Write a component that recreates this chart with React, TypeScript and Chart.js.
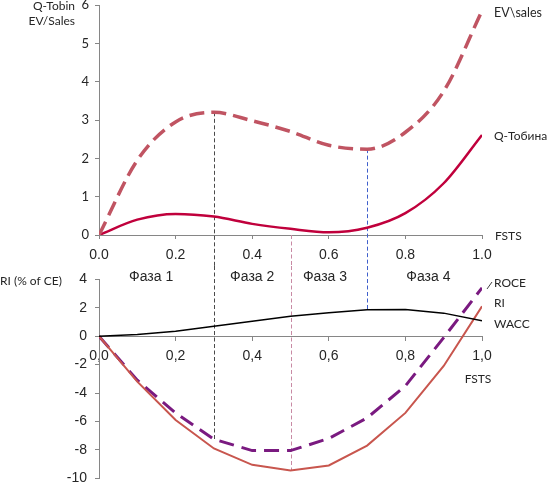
import React, { useEffect, useRef } from "react";
import { Chart, registerables } from "chart.js";

Chart.register(...registerables);

// ---------- data ----------
const FSTS = [0, 0.1, 0.2, 0.3, 0.4, 0.5, 0.6, 0.7, 0.8, 0.9, 1.0];
const EV_SALES = [0, 1.95, 2.95, 3.2, 2.98, 2.7, 2.34, 2.24, 2.68, 3.75, 5.85];
const Q_TOBIN = [0, 0.4, 0.55, 0.48, 0.29, 0.16, 0.07, 0.19, 0.57, 1.35, 2.61];
const WACC = [0, 0.12, 0.35, 0.7, 1.05, 1.4, 1.65, 1.85, 1.87, 1.62, 1.08];
const ROCE = [0, -3.1, -5.4, -7.25, -8.05, -8.05, -7.2, -5.75, -3.5, -0.1, 3.4];
const RI = [0, -3.2, -5.9, -7.9, -9.05, -9.45, -9.1, -7.7, -5.4, -2.1, 2.1];

const TOP_Y_MIN = 0;
const TOP_Y_MAX = 6;
const TOP_Y_STEP = 1;
const BOT_Y_MIN = -10;
const BOT_Y_MAX = 4;
const BOT_Y_STEP = 2;
const X_MIN = 0;
const X_MAX = 1;
const X_STEP = 0.2;

const PHASE_LABELS = ["Фаза 1", "Фаза 2", "Фаза 3", "Фаза 4"];
const PHASE_CENTERS = [0.136, 0.4, 0.59, 0.86];

// vertical markers: x position, series where it starts (top panel) and ends (bottom panel)
const MARKER_X = [0.3, 0.5, 0.7];
const MARKER_TOP = [EV_SALES, null, EV_SALES];
const MARKER_BOTTOM = [ROCE, RI, WACC];

// ---------- style ----------
const MARKER_COLORS = ["#4A4A4A", "#C88AA4", "#3F5FCC"];
const AXIS_COLOR = "#868686";
const TEXT_COLOR = "#262626";
const SANS = "Lato, 'Open Sans', sans-serif";
const ARIAL = "'Liberation Sans', Arial, sans-serif";

const W = 548;
const TOP_H = 266;
const BOT_H = 217;

function markerPath(chart: any, i: number, top: boolean) {
  const xs = chart.scales.x;
  const ys = chart.scales.y;
  const idx = FSTS.indexOf(MARKER_X[i]);
  const px = Math.round(xs.getPixelForValue(MARKER_X[i])) + 0.5;
  let y1: number, y2: number;
  if (top) {
    const s = MARKER_TOP[i];
    y1 = ys.getPixelForValue(s ? s[idx] : 0);
    y2 = chart.height;
  } else {
    y1 = 0;
    y2 = ys.getPixelForValue(MARKER_BOTTOM[i][idx]);
  }
  const ctx = chart.ctx;
  ctx.save();
  ctx.strokeStyle = MARKER_COLORS[i];
  ctx.lineWidth = 1;
  ctx.setLineDash([4, 2.5]);
  ctx.beginPath();
  ctx.moveTo(px, y1);
  ctx.lineTo(px, y2);
  ctx.stroke();
  ctx.restore();
}

function drawText(ctx: any, text: string, x: number, y: number, font: string, align: string) {
  ctx.save();
  ctx.font = font;
  ctx.fillStyle = TEXT_COLOR;
  ctx.textAlign = align;
  ctx.textBaseline = "middle";
  ctx.fillText(text, x, y);
  ctx.restore();
}

const topPlugin = {
  id: "topDecor",
  beforeDatasetsDraw(chart: any) {
    MARKER_X.forEach((_, i) => markerPath(chart, i, true));
  },
  afterDraw(chart: any) {
    const ctx = chart.ctx;
    drawText(ctx, "Q-Tobin", 75, 6, `12px ${SANS}`, "right");
    drawText(ctx, "EV/Sales", 75, 21, `12px ${SANS}`, "right");
    drawText(ctx, "EV\\sales", 494, 13, `12.5px ${SANS}`, "left");
    drawText(ctx, "Q-Тобина", 494, 136, `12px ${SANS}`, "left");
    drawText(ctx, "FSTS", 495, 236, `12px ${SANS}`, "left");
  },
};

const bottomPlugin = {
  id: "bottomDecor",
  beforeDatasetsDraw(chart: any) {
    MARKER_X.forEach((_, i) => markerPath(chart, i, false));
  },
  afterDraw(chart: any) {
    const ctx = chart.ctx;
    const xs = chart.scales.x;
    drawText(ctx, "RI (% of CE)", 0, 15, `12px ${SANS}`, "left");
    PHASE_LABELS.forEach((p, i) => {
      drawText(ctx, p, xs.getPixelForValue(PHASE_CENTERS[i]), 11, `14px ${ARIAL}`, "center");
    });
    drawText(ctx, "ROCE", 494, 17, `12px ${SANS}`, "left");
    drawText(ctx, "RI", 494, 37, `12px ${SANS}`, "left");
    drawText(ctx, "WACC", 494, 58, `12px ${SANS}`, "left");
    drawText(ctx, "FSTS", 478, 113, `12px ${SANS}`, "center");
    // small leader to ROCE
    ctx.save();
    ctx.strokeStyle = "#404040";
    ctx.lineWidth = 1;
    ctx.beginPath();
    ctx.moveTo(487, 23);
    ctx.lineTo(492, 16);
    ctx.stroke();
    ctx.restore();
  },
};

function pts(vals: number[]) {
  return FSTS.map((x, i) => ({ x, y: vals[i] }));
}

export default function App() {
  const topRef = useRef<HTMLCanvasElement>(null);
  const botRef = useRef<HTMLCanvasElement>(null);

  useEffect(() => {
    const gridCommon = { drawOnChartArea: false, tickLength: 4, color: AXIS_COLOR, lineWidth: 1 };
    const border = { color: AXIS_COLOR, width: 1 };

    const top = new Chart(topRef.current as HTMLCanvasElement, {
      type: "line",
      data: {
        datasets: [
          {
            label: "EV\\sales",
            data: pts(EV_SALES),
            borderColor: "#C05462",
            borderWidth: 3.5,
            borderDash: [15, 7],
            pointRadius: 0,
            cubicInterpolationMode: "monotone",
            fill: false,
          },
          {
            label: "Q-Тобина",
            data: pts(Q_TOBIN),
            borderColor: "#C0003C",
            borderWidth: 2.5,
            pointRadius: 0,
            cubicInterpolationMode: "monotone",
            fill: false,
          },
        ],
      },
      options: {
        responsive: false,
        animation: false,
        layout: { padding: { top: 5, left: 0, right: 66, bottom: 0 } },
        plugins: { legend: { display: false }, tooltip: { enabled: false } },
        scales: {
          x: {
            type: "linear",
            min: X_MIN,
            max: X_MAX,
            position: "bottom",
            ticks: {
              stepSize: X_STEP,
              callback: (v: any) => Number(v).toFixed(1),
              font: { family: ARIAL, size: 14 },
              color: TEXT_COLOR,
              padding: 8,
              maxRotation: 0,
              autoSkip: false,
            },
            grid: gridCommon,
            border,
            afterFit: (s: any) => {
              s.height = TOP_H - 235;
              s.paddingLeft = 0;
              s.paddingRight = 0;
            },
          },
          y: {
            type: "linear",
            min: TOP_Y_MIN,
            max: TOP_Y_MAX,
            ticks: {
              stepSize: TOP_Y_STEP,
              font: { family: SANS, size: 13 },
              color: TEXT_COLOR,
              padding: 6,
            },
            grid: gridCommon,
            border,
            afterFit: (s: any) => {
              s.width = 99;
              s.paddingTop = 0;
              s.paddingBottom = 0;
            },
          },
        },
      } as any,
      plugins: [topPlugin as any],
    });

    const bot = new Chart(botRef.current as HTMLCanvasElement, {
      type: "line",
      data: {
        datasets: [
          {
            label: "WACC",
            data: pts(WACC),
            borderColor: "#000000",
            borderWidth: 1.5,
            pointRadius: 0,
            tension: 0,
            fill: false,
          },
          {
            label: "RI",
            data: pts(RI),
            borderColor: "#C8564E",
            borderWidth: 2,
            pointRadius: 0,
            tension: 0,
            fill: false,
          },
          {
            label: "ROCE",
            data: pts(ROCE),
            borderColor: "#7A1A80",
            borderWidth: 3,
            borderDash: [15, 8],
            pointRadius: 0,
            tension: 0,
            fill: false,
          },
        ],
      },
      options: {
        responsive: false,
        animation: false,
        layout: { padding: { top: 279.3 - TOP_H, left: 0, right: 66, bottom: 483 - 478.3 } },
        plugins: { legend: { display: false }, tooltip: { enabled: false } },
        scales: {
          x: {
            type: "linear",
            min: X_MIN,
            max: X_MAX,
            position: { y: 0 },
            ticks: {
              stepSize: X_STEP,
              callback: (v: any) => Number(v).toFixed(1).replace(".", ","),
              font: { family: ARIAL, size: 14 },
              color: TEXT_COLOR,
              padding: 8,
              maxRotation: 0,
              autoSkip: false,
            },
            grid: gridCommon,
            border,
            afterFit: (s: any) => {
              s.height = 0;
              s.paddingLeft = 0;
              s.paddingRight = 0;
            },
          },
          y: {
            type: "linear",
            min: BOT_Y_MIN,
            max: BOT_Y_MAX,
            ticks: {
              stepSize: BOT_Y_STEP,
              callback: (v: any) => String(v),
              font: { family: ARIAL, size: 14 },
              color: TEXT_COLOR,
              padding: 8,
            },
            grid: gridCommon,
            border,
            afterFit: (s: any) => {
              s.width = 99;
              s.paddingTop = 0;
              s.paddingBottom = 0;
            },
          },
        },
      } as any,
      plugins: [bottomPlugin as any],
    });

    return () => {
      top.destroy();
      bot.destroy();
    };
  }, []);

  return (
    <div style={{ position: "absolute", left: 0, top: 0, width: W, height: TOP_H + BOT_H, background: "#fff" }}>
      <canvas
        ref={topRef}
        width={W}
        height={TOP_H}
        style={{ position: "absolute", left: 0, top: 0, width: W, height: TOP_H }}
      />
      <canvas
        ref={botRef}
        width={W}
        height={BOT_H}
        style={{ position: "absolute", left: 0, top: TOP_H, width: W, height: BOT_H }}
      />
    </div>
  );
}
